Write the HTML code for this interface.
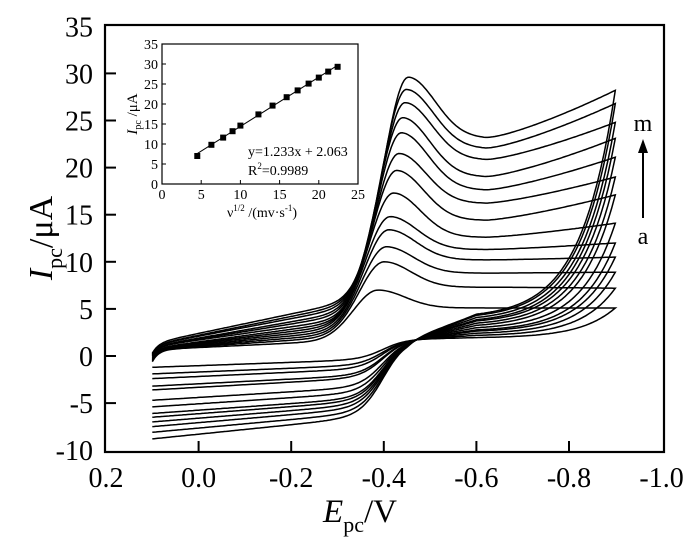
<!DOCTYPE html>
<html><head><meta charset="utf-8"><style>
body{margin:0;background:#fff;}
svg{display:block;font-family:"Liberation Serif",serif;}
</style></head><body>
<svg id="chart" width="700" height="548" viewBox="0 0 700 548">
<rect width="700" height="548" fill="#fff"/>
<g id="curves"></g>
<rect x="105" y="25" width="559" height="427" fill="none" stroke="#000" stroke-width="2.2"/>
<g id="axes"></g>
<text x="360" y="522" font-size="33" text-anchor="middle"><tspan font-style="italic">E</tspan><tspan font-size="22" dy="10">pc</tspan><tspan dy="-10">/V</tspan></text>
<text transform="translate(52,238) rotate(-90)" font-size="34" text-anchor="middle"><tspan font-style="italic">I</tspan><tspan font-size="22" dy="10">pc</tspan><tspan dy="-10">/μA</tspan></text>
<g>
<line x1="643" y1="218" x2="643" y2="150" stroke="#000" stroke-width="2"/>
<polygon points="643,139 638,153 648,153" fill="#000"/>
</g>
<text x="643" y="131" font-size="24" text-anchor="middle">m</text>
<text x="643" y="244" font-size="24" text-anchor="middle">a</text>
<g id="inset">
<rect x="162" y="44" width="196" height="140" fill="#fff" stroke="#000" stroke-width="1.2"/>
<g id="insetAxes"></g>
<text x="248" y="156" font-size="14">y=1.233x + 2.063</text>
<text x="248" y="175" font-size="14">R<tspan font-size="9" dy="-6">2</tspan><tspan dy="6">=0.9989</tspan></text>
<text x="262" y="217" font-size="14" text-anchor="middle">ν<tspan font-size="9" dy="-6">1/2</tspan><tspan dy="6"> /(mv·s</tspan><tspan font-size="9" dy="-6">-1</tspan><tspan dy="6">)</tspan></text>
<text transform="translate(137,114) rotate(-90)" font-size="15" text-anchor="middle"><tspan font-style="italic">I</tspan><tspan font-size="10" dy="4">pc</tspan><tspan dy="-4"> /μA</tspan></text>
</g>
</svg>
<script>
// ---- data: curves a..m ----
const peakCurrent = [7.0,10.0,11.6,13.4,14.8,17.3,19.7,21.5,23.7,25.3,26.9,28.3,29.6];
const peakPotential = [-0.387,-0.40,-0.405,-0.41,-0.413,-0.42,-0.427,-0.432,-0.437,-0.44,-0.445,-0.448,-0.452];
const troughCurrent = [5.1,7.3,8.8,10.2,11.3,12.6,14.4,16.2,17.6,19.0,20.8,22.0,23.1];
const endCurrent = [5.1,7.2,8.9,10.5,12.0,14.1,17.1,19.0,21.1,23.1,24.8,26.8,28.2];
const startCurrent = [-0.6,-0.5,-0.4,-0.3,-0.2,-0.1,0.0,0.0,0.1,0.1,0.2,0.2,0.3];
const footStart = [0.9,1.0,1.1,1.2,1.3,1.4,1.5,1.7,1.8,1.9,2.1,2.2,2.4];
const footEnd = [1.6,2.0,2.3,2.6,2.9,3.2,3.5,3.8,4.2,4.5,4.9,5.2,5.5];
const returnPlateau = [1.9,2.1,2.3,2.5,2.6,2.8,3.0,3.2,3.4,3.5,3.7,3.9,4.0];
const anodicLeft = [-1.2,-1.9,-2.4,-3.2,-3.6,-4.7,-5.4,-6.1,-6.5,-7.0,-7.5,-8.1,-8.8];
const anodicRight = [-0.5,-1.1,-1.5,-2.2,-2.5,-3.5,-4.1,-4.7,-5.0,-5.4,-5.8,-6.3,-6.8];
// ---- data: inset ----
const sqrtRate = [4.5,6.3,7.8,9.0,10.0,12.3,14.1,15.9,17.3,18.7,20.0,21.2,22.4];
const insetPeak = [7.0,9.8,11.6,13.2,14.6,17.4,19.6,21.7,23.4,25.1,26.6,28.1,29.3];
const fitSlope = 1.233, fitIntercept = 2.063;
const xTicks = [0.2,0.0,-0.2,-0.4,-0.6,-0.8,-1.0];
const xTickLabels = ["0.2","0.0","-0.2","-0.4","-0.6","-0.8","-1.0"];
const yTicks = [-10,-5,0,5,10,15,20,25,30,35];
const insetXTicks = [0,5,10,15,20,25];
const insetYTicks = [0,5,10,15,20,25,30,35];

const NS="http://www.w3.org/2000/svg";
function X(E){return 106+(0.2-E)*463;}
function Y(I){return 356-9.42*I;}
function IX(v){return 162+v*7.84;}
function IY(v){return 184-v*4;}
function mk(tag,attrs,parent){const e=document.createElementNS(NS,tag);for(const k in attrs)e.setAttribute(k,attrs[k]);parent.appendChild(e);return e;}

const curves=document.getElementById('curves');
for(let k=0;k<peakCurrent.length;k++){
  const Ep=peakPotential[k],Ip=peakCurrent[k],T=troughCurrent[k],End=endCurrent[k];
  const F=E=>footStart[k]+(footEnd[k]-footStart[k])*(E-0.0)/(-0.3);
  const A=E=>anodicLeft[k]+(anodicRight[k]-anodicLeft[k])*(0.1-E)/0.4;
  const base=E=>{ if(E>Ep) return F(E); if(E>-0.62) return T; return T+(End-T)*Math.pow((-0.62-E)/0.28,1.3);};
  const fwd=E=>{
    let v;
    if(E>Ep){v=F(E)+(Ip-F(Ep))*Math.exp(-Math.pow((E-Ep)/0.075,2));}
    else {v=base(E)+(Ip-T)*Math.exp(-Math.pow((E-Ep)/0.083,2));}
    v+=(startCurrent[k]-F(0.1))*Math.exp(-(0.1-E)/0.014);
    return v;
  };
  const P=E=>1.8+(returnPlateau[k]-1.8)*Math.min(1,Math.max(0,(-0.45-E)/0.15));
  const rev=E=>{
    const s=1/(1+Math.exp((E+0.40)/0.025));
    let v=A(E)+(P(E)-A(E))*s;
    v+=(End-P(-0.9))*Math.exp(-(E+0.9)/0.075);
    return v;
  };
  let d="";
  for(let E=0.1;E>=-0.9001;E-=0.004){d+=(d?"L":"M")+X(E).toFixed(1)+","+Y(fwd(E)).toFixed(1);}
  for(let E=-0.9;E<=0.1001;E+=0.004){d+="L"+X(E).toFixed(1)+","+Y(rev(E)).toFixed(1);}
  const p=mk('path',{d:d,fill:'none',stroke:'#000','stroke-width':'1.5'},curves);
  
  
}

const axes=document.getElementById('axes');
xTicks.forEach((t,i)=>{
  if(i>0&&i<xTicks.length-1){const l=mk('line',{x1:X(t),x2:X(t),y1:452,y2:441,stroke:'#000','stroke-width':'2'},axes);
  
  }
  const tx=mk('text',{x:X(t),y:487,'font-size':'28','text-anchor':'middle'},axes);
  tx.textContent=xTickLabels[i];
  
  
});
yTicks.forEach(t=>{
  if(t>-10&&t<35){const l=mk('line',{x1:105,x2:116,y1:Y(t),y2:Y(t),stroke:'#000','stroke-width':'2'},axes);
  
  }
  const tx=mk('text',{x:93,y:Y(t)+10,'font-size':'28','text-anchor':'end'},axes);
  tx.textContent=String(t);
  
  
});

const ia=document.getElementById('insetAxes');
insetXTicks.forEach(t=>{
  const l=mk('line',{x1:IX(t),x2:IX(t),y1:184,y2:180,stroke:'#000','stroke-width':'1'},ia);
  
  
  const tx=mk('text',{x:IX(t),y:199,'font-size':'14','text-anchor':'middle'},ia);
  tx.textContent=String(t);
  
  
});
insetYTicks.forEach(t=>{
  const l=mk('line',{x1:162,x2:166,y1:IY(t),y2:IY(t),stroke:'#000','stroke-width':'1'},ia);
  
  
  const tx=mk('text',{x:158,y:IY(t)+5,'font-size':'14','text-anchor':'end'},ia);
  tx.textContent=String(t);
  
  
});
const x0=sqrtRate[0],x1=sqrtRate[sqrtRate.length-1];
const fit=mk('line',{x1:IX(x0),y1:IY(fitSlope*x0+fitIntercept),x2:IX(x1),y2:IY(fitSlope*x1+fitIntercept),stroke:'#000','stroke-width':'1'},ia);


sqrtRate.forEach((v,i)=>{
  const r=mk('rect',{x:IX(v)-3,y:IY(insetPeak[i])-3,width:6,height:6,fill:'#000'},ia);
  
  
});
</script>
</body></html>
